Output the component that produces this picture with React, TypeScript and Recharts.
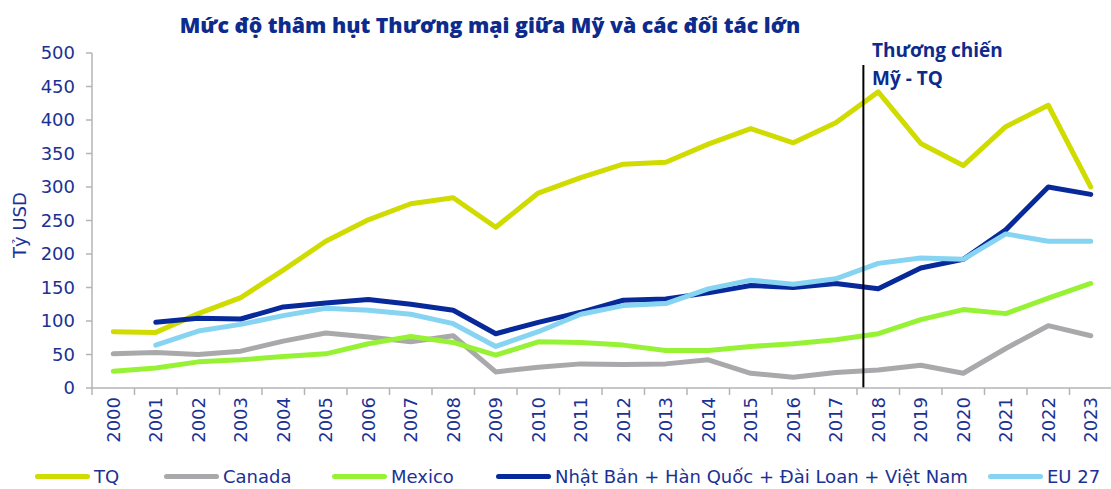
import React from 'react';
import { LineChart, Line, XAxis, YAxis, ReferenceLine } from 'recharts';

const years = [2000, 2001, 2002, 2003, 2004, 2005, 2006, 2007, 2008, 2009, 2010, 2011, 2012, 2013, 2014, 2015, 2016, 2017, 2018, 2019, 2020, 2021, 2022, 2023];
const tq = [84, 83, 111, 135, 176, 219, 251, 275, 284, 240, 291, 314, 334, 337, 364, 387, 366, 396, 442, 365, 332, 390, 422, 300];
const canada = [51, 53, 50, 55, 70, 82, 76, 69, 78, 24, 31, 36, 35, 36, 42, 22, 16, 23, 27, 34, 22, 59, 93, 78];
const mexico = [25, 30, 39, 42, 47, 51, 66, 77, 68, 49, 69, 68, 64, 56, 56, 62, 66, 72, 81, 102, 117, 111, 134, 156];
const asia = [null, 98, 104, 103, 121, 127, 132, 125, 116, 81, 98, 113, 131, 133, 142, 153, 150, 156, 148, 179, 192, 236, 300, 289];
const eu27 = [null, 64, 85, 95, 108, 119, 116, 110, 96, 62, 84, 110, 123, 126, 148, 161, 155, 163, 186, 194, 192, 230, 219, 219];
const yTicks = [0, 50, 100, 150, 200, 250, 300, 350, 400, 450, 500];

const series = [
  { key: 'tq', name: 'TQ', color: '#d0db00', legendX: 35 },
  { key: 'canada', name: 'Canada', color: '#a9a9ac', legendX: 164 },
  { key: 'mexico', name: 'Mexico', color: '#97f236', legendX: 332 },
  { key: 'asia', name: 'Nhật Bản + Hàn Quốc + Đài Loan + Việt Nam', color: '#08299a', legendX: 496 },
  { key: 'eu27', name: 'EU 27', color: '#86d4f1', legendX: 988 },
];

const data = years.map((year, i) => ({
  year,
  tq: tq[i],
  canada: canada[i],
  mexico: mexico[i],
  asia: asia[i],
  eu27: eu27[i],
}));

// labels sit on the years, tick marks on the half years between them
const xTicks = years.flatMap(y => [y - 0.5, y]).concat([2023.5]);

const TEXT = '#1b3194';
const AXIS = '#b4b4b8';
const FONT = '"DejaVu Sans", sans-serif';

const XTick = (props: any) => {
  const { x, y, payload } = props;
  const v = payload.value;
  if (v % 1 !== 0) {
    return <line x1={x} y1={y} x2={x} y2={y + 7} stroke={AXIS} strokeWidth={1.5} />;
  }
  return (
    <text
      x={x}
      y={y + 9}
      transform={`rotate(-90, ${x}, ${y + 9})`}
      textAnchor="end"
      dy="0.36em"
      fill={TEXT}
      fontSize={18}
      fontFamily={FONT}
    >
      {v}
    </text>
  );
};

const App = () => {
  return (
    <div style={{ position: 'fixed', left: 0, top: 0, width: 1111, height: 489, overflow: 'hidden', background: '#fff' }}>
      <div style={{
        position: 'absolute', left: 490, top: 24, transform: 'translate(-50%, -50%)', whiteSpace: 'nowrap',
        fontFamily: '"Open Sans", sans-serif', fontWeight: 800, fontSize: 21.3, color: '#0c2b8c',
      }}>
        Mức độ thâm hụt Thương mại giữa Mỹ và các đối tác lớn
      </div>
      <div style={{
        position: 'absolute', left: 19, top: 225, transform: 'translate(-50%, -50%) rotate(-90deg)', whiteSpace: 'nowrap',
        fontFamily: FONT, fontSize: 18, color: TEXT,
      }}>
        Tỷ USD
      </div>
      <LineChart width={1120} height={489} data={data} margin={{ top: 53, right: 8, bottom: 0, left: 0 }}>
        <XAxis
          dataKey="year"
          type="number"
          domain={[1999.5, 2023.5]}
          ticks={xTicks}
          interval={0}
          height={101}
          tickSize={0}
          tickMargin={0}
          tickLine={false}
          axisLine={{ stroke: AXIS, strokeWidth: 1.5 }}
          tick={<XTick />}
        />
        <YAxis
          domain={[0, 500]}
          ticks={yTicks}
          interval={0}
          width={92}
          tickSize={6}
          tickMargin={11}
          axisLine={{ stroke: AXIS, strokeWidth: 1.5 }}
          tickLine={{ stroke: AXIS, strokeWidth: 1.5 }}
          tick={{ fill: TEXT, fontSize: 18, fontFamily: FONT }}
        />
        {series.map(s => (
          <Line
            key={s.key}
            dataKey={s.key}
            stroke={s.color}
            strokeWidth={5}
            strokeLinecap="round"
            strokeLinejoin="round"
            dot={false}
            activeDot={false}
            isAnimationActive={false}
          />
        ))}
        <ReferenceLine
          segment={[{ x: 2017.65, y: 0 }, { x: 2017.65, y: 482 }]}
          stroke="#000"
          strokeWidth={2}
        />
      </LineChart>
      <div style={{
        position: 'absolute', left: 872, top: 36, lineHeight: '28px',
        fontFamily: '"Open Sans", sans-serif', fontWeight: 700, fontSize: 19, color: '#0c2b8c',
      }}>
        <div>Thương chiến</div>
        <div>Mỹ - TQ</div>
      </div>
      {series.map(s => (
        <div key={s.key} style={{
          position: 'absolute', left: s.legendX, top: 466, display: 'flex', alignItems: 'center',
          fontFamily: FONT, fontSize: 18, color: TEXT, whiteSpace: 'nowrap',
        }}>
          <span style={{ display: 'inline-block', flexShrink: 0, width: 55, height: 5, borderRadius: 3, background: s.color, marginRight: 4 }} />
          <span>{s.name}</span>
        </div>
      ))}
    </div>
  );
};

export default App;
